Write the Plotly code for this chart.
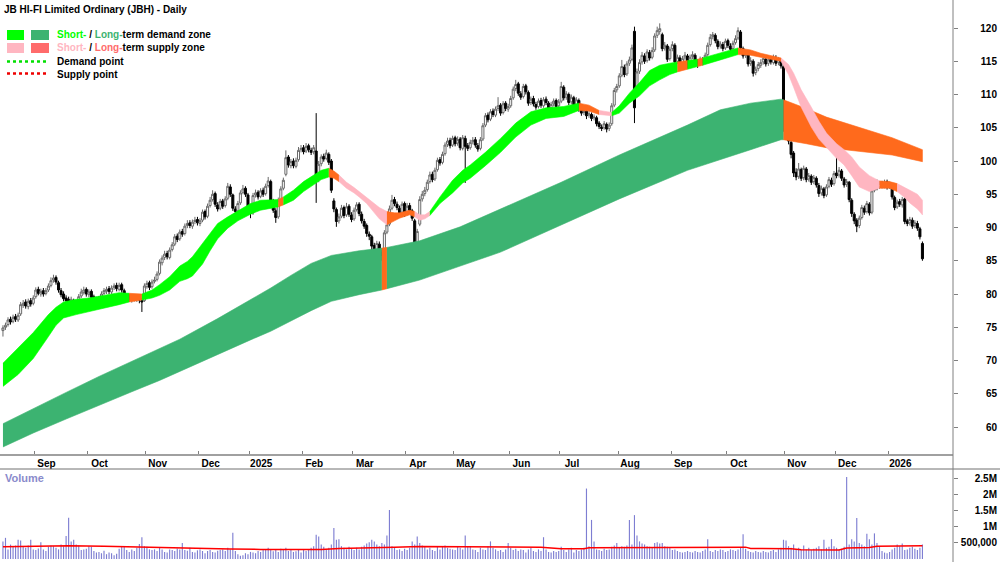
import pandas as pd
import plotly.graph_objects as go

# ---------------- data ----------------
start_date = "2024-08-14"
asx_holidays = ["2024-12-25", "2024-12-26", "2025-01-01", "2025-01-27", "2025-04-18",
                "2025-04-21", "2025-04-25", "2025-06-09", "2025-12-25", "2025-12-26", "2026-01-01"]

opens = [
 74.5,75.0,75.4,76.2,75.9,76.6,76.1,77.0,78.3,78.8, 78.1,79.0,78.6,79.6,80.7,80.0,80.5,80.1,80.6,81.3,
 82.1,82.5,81.7,80.5,80.0,79.4,79.2,78.5,79.0,77.9, 78.6,79.7,80.2,80.7,79.9,80.4,79.6,78.9,79.3,79.0,
 80.1,80.4,80.8,80.3,81.0,81.3,80.7,81.4,80.5,79.3, 79.7,79.1,79.6,79.2,79.7,79.0,79.0,81.1,81.7,81.1,
 81.9,82.2,83.1,84.7,85.5,86.1,85.5,86.7,87.5,88.7, 88.3,89.4,89.1,90.3,90.7,90.2,90.9,91.2,90.6,91.1,
 92.4,91.7,93.3,94.2,95.1,93.4,92.9,94.0,93.3,94.4, 96.1,94.9,92.8,92.5,93.7,95.3,95.9,94.9,93.1,92.2,
 94.9,95.3,94.7,95.6,95.1,96.3,96.9,94.0,92.5,91.6, 94.2,95.9,98.0,100.6,99.3,100.0,99.2,100.2,101.7,102.0,
 101.5,102.3,101.6,101.4,101.5,97.2,99.6,100.7,100.4,101.0, 100.0,94.0,92.7,91.0,91.7,93.0,91.9,93.2,91.9,91.3,
 92.7,93.5,92.0,90.9,90.3,89.0,88.6,87.3,86.1,87.5, 86.3,85.9,89.3,90.5,92.9,94.2,93.5,92.9,92.3,93.6,
 92.1,93.3,92.5,91.0,86.0,90.5,94.3,95.1,95.7,96.9, 98.0,97.3,98.7,100.2,99.8,101.1,102.5,103.1,102.4,103.5,
 102.7,103.3,101.9,103.4,102.3,102.0,102.9,103.2,102.3,101.9, 103.3,105.4,106.9,106.3,107.5,106.9,107.9,108.4,107.3,108.7,
 107.8,108.3,109.5,110.9,111.6,110.1,109.7,111.3,110.3,108.8, 109.4,108.5,108.2,109.1,108.3,109.3,108.7,108.0,108.6,109.1,
 108.3,109.0,111.1,109.6,110.0,108.9,109.5,108.2,109.1,107.9, 107.3,107.5,106.9,107.0,106.5,106.5,105.7,105.1,105.0,105.5,
 104.9,105.6,108.4,110.7,111.3,112.9,114.1,113.1,114.7,115.3, 119.5,110.0,113.5,114.9,115.8,115.1,116.3,115.6,116.7,118.9,
 119.5,119.0,117.0,117.3,115.4,116.9,117.4,115.0,115.5,114.7, 115.5,115.8,114.5,115.7,115.9,114.9,114.7,115.2,114.9,116.0,
 117.5,118.7,118.9,118.0,117.3,117.5,117.0,118.1,117.3,116.9, 117.8,118.5,119.4,116.9,115.9,116.1,114.7,115.0,113.3,113.9,
 114.4,114.9,115.3,114.7,115.3,114.8,115.5,114.8,115.1,114.2, 105.5,106.5,102.8,101.2,98.3,97.7,98.7,97.5,98.8,97.3,
 97.7,96.9,97.4,96.3,95.2,95.8,94.9,96.2,97.1,96.6, 98.2,97.9,98.5,97.3,96.5,96.8,94.1,92.0,91.1,90.3,
 91.5,92.9,92.4,93.5,92.3,95.6,96.9,96.1,96.7,96.2, 96.9,96.2,96.4,94.5,93.1,93.9,93.4,94.3,91.0,90.7,
 91.1,90.3,90.6,89.8,87.6]

highs = [
 75.3,75.7,76.5,76.6,76.9,77.0,77.2,78.8,79.1,79.2, 79.3,79.4,79.8,81.0,81.1,80.8,80.9,80.9,81.6,82.5,
 82.9,82.8,82.0,80.9,80.4,79.8,79.6,79.6,79.3,78.9, 80.0,80.8,81.1,81.0,80.7,80.7,79.9,79.6,79.7,80.4,
 80.9,81.1,81.2,81.3,81.6,81.7,81.7,81.7,80.8,80.0, 80.0,79.9,80.0,80.0,80.0,79.4,81.6,82.0,82.0,82.2,
 82.6,83.4,85.2,85.8,86.5,86.5,87.0,87.8,89.0,89.1, 89.7,89.8,90.6,91.1,91.1,91.2,91.6,91.6,91.4,92.7,
 92.7,93.6,94.6,95.6,95.4,93.8,94.3,94.3,94.7,96.7, 96.5,95.1,93.2,94.0,95.6,96.4,96.2,95.2,93.4,95.2,
 95.7,95.6,95.9,96.0,96.6,97.6,97.2,94.3,92.9,94.5, 96.2,97.5,101.6,100.9,100.3,100.4,100.5,102.1,102.4,102.4,
 102.7,102.6,102.0,102.4,107.2,100.0,101.0,101.1,101.7,101.3, 100.3,94.4,93.0,92.1,93.4,93.3,93.7,93.5,92.3,93.0,
 93.8,93.8,92.4,91.3,90.6,89.4,88.9,87.7,88.0,87.9, 86.7,89.6,90.9,93.3,94.9,94.6,93.9,93.3,93.9,93.9,
 93.7,93.7,92.8,91.3,89.8,94.7,95.5,96.1,97.2,98.4, 98.4,99.0,100.5,100.6,101.4,102.8,103.5,103.5,103.8,103.8,
 103.7,103.6,103.9,103.8,102.7,103.2,103.6,103.6,102.7,103.6, 105.7,107.2,107.3,107.8,107.9,108.2,109.6,108.7,109.0,109.0,
 108.6,109.8,111.2,112.2,111.9,110.5,111.6,111.6,110.6,109.7, 109.8,108.9,109.4,109.5,109.6,109.7,109.0,108.9,109.4,109.4,
 109.3,111.9,111.4,110.5,110.3,110.0,109.8,109.6,109.4,108.2, 108.0,107.9,107.5,107.3,107.0,106.8,106.0,105.5,106.0,105.8,
 105.8,108.7,111.0,111.6,113.2,115.2,114.5,115.0,115.7,117.5, 120.2,113.9,115.3,116.4,116.2,116.8,116.7,117.1,119.2,120.2,
 120.7,119.3,117.9,117.6,117.2,118.0,117.7,116.0,115.9,115.8, 116.4,116.1,116.0,116.5,116.2,115.3,115.7,115.6,116.3,117.8,
 119.1,119.4,119.2,118.3,118.0,117.9,118.4,118.4,117.7,118.1, 118.9,120.1,119.7,117.2,116.7,116.4,115.6,115.3,114.2,114.9,
 115.3,115.8,115.7,115.6,115.7,116.0,115.9,115.6,115.4,114.4, 108.0,106.9,103.2,101.5,98.9,99.7,99.0,99.3,99.1,98.2,
 98.0,97.9,97.7,96.7,96.3,96.1,96.5,97.6,97.5,98.5, 100.9,99.1,98.8,97.6,97.3,97.0,94.4,92.3,91.4,91.8,
 93.4,93.3,94.0,93.8,95.9,97.2,97.2,97.0,97.0,97.2, 97.2,96.9,96.7,94.8,94.2,94.3,94.6,94.5,91.3,91.6,
 91.5,91.1,91.0,90.1,87.9]

lows = [
 73.6,74.6,75.1,75.4,75.6,75.8,75.8,76.7,77.9,77.8, 77.7,78.1,78.3,79.3,79.8,79.6,79.6,79.8,80.3,81.0,
 81.7,81.4,80.2,79.5,78.9,78.5,78.0,78.1,77.3,77.5, 78.3,79.4,79.9,79.6,79.5,79.1,78.6,78.5,78.7,78.7,
 79.8,80.0,80.0,80.0,80.6,80.4,80.4,80.2,79.0,78.9, 78.8,78.7,78.9,78.8,78.6,77.3,78.8,80.8,80.6,80.8,
 81.6,81.9,82.8,84.3,85.1,85.2,85.2,86.4,87.2,87.8, 88.0,88.6,88.8,89.9,89.9,89.8,90.5,90.3,90.2,90.8,
 91.2,91.4,93.0,93.9,93.1,92.4,92.6,92.8,93.0,94.1, 94.6,92.5,91.4,92.2,93.4,95.0,94.6,92.8,91.4,91.9,
 94.5,94.2,94.4,94.6,94.8,96.0,93.7,92.2,90.7,91.3, 93.9,95.6,97.7,99.0,98.9,98.9,98.9,99.9,101.3,101.0,
 101.2,101.3,100.9,101.0,93.7,96.8,99.2,99.9,100.1,99.4, 95.2,92.3,90.1,90.6,91.4,91.4,91.6,91.6,90.8,91.0,
 92.4,91.7,90.6,89.8,88.6,88.1,86.6,85.5,85.7,85.4, 85.0,85.5,89.0,90.2,92.6,93.2,92.6,91.8,92.0,91.6,
 91.8,92.2,91.0,83.0,85.5,90.2,93.9,94.7,95.4,96.6, 96.8,97.0,98.4,99.3,99.5,100.8,102.1,101.9,102.1,102.2,
 102.3,101.6,101.6,96.7,101.5,101.7,102.5,102.0,101.4,101.6, 103.0,105.1,105.8,106.0,106.6,106.6,107.5,106.8,107.0,107.5,
 107.4,108.0,109.2,110.5,109.8,109.2,109.4,110.0,108.3,108.4, 108.2,107.7,107.9,108.0,108.0,108.4,107.5,107.7,108.2,107.8,
 108.0,108.7,109.1,109.2,108.4,108.5,107.7,107.9,107.4,106.8, 106.9,106.3,106.5,106.0,106.1,105.2,104.8,104.5,104.7,104.3,
 104.5,105.3,108.1,110.3,111.0,112.6,112.6,112.8,114.3,115.0, 105.7,109.6,113.1,114.5,114.6,114.8,115.1,115.3,116.4,118.5,
 119.0,116.5,116.6,114.9,115.1,116.5,114.4,114.6,114.0,114.3, 115.1,113.9,114.2,115.3,114.6,114.0,114.3,114.4,114.6,115.7,
 117.2,118.3,117.7,116.8,116.9,116.5,116.7,117.0,116.4,116.6, 117.5,118.2,116.6,115.4,115.5,114.2,114.3,112.7,112.9,113.5,
 114.0,114.5,114.2,114.3,114.5,114.5,114.3,114.4,113.9,104.4, 104.8,102.5,100.4,97.6,97.1,97.3,97.0,97.1,96.8,96.9,
 96.4,96.5,96.0,94.6,94.8,94.4,94.6,95.9,96.1,96.3, 97.4,97.5,97.0,96.0,96.1,93.8,91.6,90.5,89.3,89.9,
 91.2,91.9,92.1,91.8,92.0,95.3,95.6,95.8,95.9,95.9, 95.7,95.8,94.2,92.6,92.8,93.1,93.0,90.5,90.2,90.3,
 89.8,89.9,89.5,88.2,85.0]

closes = [
 74.9,75.3,76.1,75.8,76.5,76.2,76.8,78.4,78.6,78.2, 78.9,78.5,79.4,80.6,80.1,80.4,80.0,80.5,81.2,82.0,
 82.4,81.8,80.6,79.9,79.3,79.0,78.6,79.2,77.8,78.5, 79.6,80.3,80.6,80.0,80.3,79.5,79.0,79.2,79.1,80.0,
 80.5,80.7,80.4,80.9,81.2,80.8,81.3,80.6,79.4,79.6, 79.2,79.5,79.3,79.6,79.1,78.8,81.2,81.6,81.0,81.8,
 82.1,83.0,84.8,85.4,86.0,85.6,86.6,87.4,88.6,88.2, 89.3,89.0,90.2,90.6,90.3,90.8,91.1,90.7,91.0,92.3,
 91.6,93.2,94.1,95.0,93.5,92.8,93.9,93.2,94.3,96.2, 95.0,92.9,92.4,93.6,95.2,95.8,95.0,93.2,92.1,94.8,
 95.2,94.6,95.5,95.0,96.2,97.0,94.1,92.6,91.5,94.1, 95.8,97.1,100.5,99.4,99.9,99.3,100.1,101.6,101.9,101.4,
 102.2,101.7,101.3,102.0,97.0,99.5,100.6,100.3,101.2,99.8, 95.6,92.8,90.9,91.6,92.9,91.8,93.1,92.0,91.2,92.6,
 93.4,92.1,91.0,90.2,89.1,88.7,87.2,86.0,87.6,86.2, 85.8,89.2,90.4,92.8,94.1,93.6,93.0,92.2,93.5,92.0,
 93.2,92.6,91.4,86.0,89.4,94.2,95.0,95.6,96.8,97.9, 97.2,98.6,100.1,99.7,101.0,102.4,103.0,102.3,103.4,102.6,
 103.2,102.0,103.5,102.2,101.9,102.8,103.1,102.4,101.8,103.2, 105.3,106.8,106.2,107.4,107.0,107.8,108.3,107.2,108.6,107.9,
 108.2,109.4,110.8,111.5,110.2,109.6,111.2,110.4,108.7,109.3, 108.6,108.1,109.0,108.4,109.2,108.8,107.9,108.5,109.0,108.2,
 108.9,111.2,109.5,110.1,108.8,109.6,108.1,109.2,107.8,107.2, 107.6,106.8,107.1,106.4,106.6,105.6,105.2,104.9,105.6,104.8,
 105.4,108.3,110.6,111.2,112.8,114.2,113.0,114.6,115.2,117.0, 108.0,113.4,114.8,115.9,115.0,116.4,115.5,116.6,118.8,119.6,
 119.9,116.9,117.4,115.3,116.8,117.5,114.9,115.6,114.6,115.4, 115.9,114.4,115.6,116.0,115.0,114.6,115.3,114.8,115.9,117.4,
 118.6,119.0,118.1,117.2,117.6,116.9,118.0,117.4,116.8,117.7, 118.4,119.6,117.0,115.8,116.2,114.6,115.1,113.2,113.8,114.5,
 114.8,115.4,114.6,115.2,114.9,115.6,114.7,115.2,114.3,105.0, 106.8,103.0,101.0,98.2,97.6,98.8,97.4,98.9,97.2,97.8,
 96.8,97.5,96.4,95.1,95.9,94.8,96.1,97.2,96.5,98.1, 97.8,98.6,97.4,96.4,96.9,94.2,92.1,91.0,90.2,91.4,
 93.0,92.3,93.6,92.2,95.5,96.8,96.0,96.6,96.3,96.8, 96.1,96.5,94.6,93.0,93.8,93.5,94.2,90.9,90.6,91.2,
 90.2,90.7,89.9,88.6,85.3]

volume_m = [
 0.55,0.66,0.30,0.45,0.38,0.42,0.60,0.58,0.40,0.35, 0.42,0.60,0.30,0.28,0.33,0.52,0.30,0.25,0.38,0.42,
 0.40,0.35,0.30,0.45,0.40,0.72,1.29,0.55,0.60,0.45, 0.42,0.28,0.30,0.32,0.40,0.38,0.25,0.20,0.22,0.18,
 0.26,0.15,0.20,0.18,0.12,0.16,0.32,0.38,0.40,0.28, 0.22,0.30,0.25,0.35,0.47,0.68,0.40,0.38,0.30,0.28,
 0.30,0.25,0.35,0.30,0.22,0.20,0.30,0.28,0.25,0.33, 0.30,0.50,0.28,0.26,0.35,0.22,0.20,0.27,0.30,0.25,
 0.18,0.25,0.28,0.22,0.20,0.26,0.28,0.30,0.25,0.35, 0.30,0.82,0.25,0.15,0.10,0.12,0.18,0.15,0.22,0.20,
 0.18,0.25,0.22,0.30,0.28,0.35,0.30,0.24,0.28,0.22, 0.32,0.30,0.35,0.25,0.28,0.22,0.24,0.30,0.20,0.30,
 0.25,0.28,0.35,0.40,0.76,0.70,0.45,0.38,0.30,0.35, 0.45,0.97,0.60,0.62,0.40,0.35,0.30,0.38,0.32,0.28,
 0.35,0.30,0.38,0.42,0.48,0.52,0.60,0.55,0.45,0.40, 0.50,0.45,0.73,1.53,0.40,0.35,0.28,0.30,0.25,0.32,
 0.28,0.35,0.55,0.45,0.70,0.50,0.42,0.38,0.30,0.35, 0.28,0.25,0.38,0.30,0.40,0.42,0.35,0.32,0.30,0.28,
 0.38,0.35,0.30,0.73,0.40,0.38,0.30,0.28,0.22,0.35, 0.30,0.28,0.40,0.55,0.35,0.30,0.25,0.28,0.22,0.30,
 0.50,0.35,0.28,0.32,0.25,0.30,0.28,0.20,0.30,0.35, 0.25,0.22,0.30,0.25,0.68,0.30,0.22,0.20,0.25,0.22,
 0.25,0.38,0.28,0.22,0.30,0.35,0.20,0.28,0.25,0.30, 0.35,2.20,0.40,1.22,0.55,0.30,0.28,0.25,0.32,0.28,
 0.30,0.38,0.42,0.50,0.35,0.40,0.38,0.42,1.22,0.45, 1.37,0.73,0.55,0.48,0.45,0.40,0.38,0.35,0.50,0.52,
 0.48,0.50,0.40,0.38,0.35,0.28,0.30,0.25,0.22,0.20, 0.22,0.25,0.22,0.20,0.25,0.22,0.20,0.25,0.30,0.62,
 0.25,0.22,0.28,0.25,0.30,0.28,0.22,0.25,0.30,0.28, 0.25,0.30,0.35,0.77,0.32,0.25,0.22,0.20,0.25,0.22,
 0.20,0.25,0.22,0.20,0.25,0.28,0.22,0.30,0.35,0.60, 0.58,0.40,0.35,0.45,0.30,0.35,0.28,0.42,0.30,0.35,
 0.28,0.32,0.35,0.40,0.30,0.60,0.35,0.38,0.62,0.40, 0.35,0.30,0.32,0.38,2.56,0.45,0.62,0.55,1.28,0.50,
 0.45,0.40,0.79,0.62,0.45,0.80,0.50,0.40,0.25,0.20, 0.18,0.22,0.30,0.35,0.45,0.40,0.48,0.28,0.30,0.35,
 0.38,0.32,0.28,0.35,0.45]

# volume moving average (read at sample bars), millions
vol_ma_idx = [0, 11, 26, 40, 54, 62, 78, 90, 102, 118, 126, 133, 145, 155, 165, 185, 197, 213,
              221, 230, 232, 252, 276, 294, 296, 312, 316, 331, 334, 343, 346, 364]
vol_ma_m = [0.38, 0.40, 0.41, 0.40, 0.37, 0.36, 0.33, 0.31, 0.30, 0.29, 0.30, 0.33, 0.34, 0.37, 0.39, 0.39,
            0.39, 0.37, 0.32, 0.32, 0.35, 0.36, 0.37, 0.37, 0.33, 0.32, 0.29, 0.28, 0.34, 0.36, 0.40, 0.41]

# long-term zone edges (sample bar, top, bottom, zone of the stretch that starts there)
lt_idx = [0, 12, 25, 38, 51, 62, 70, 85, 98, 106, 114, 122, 130, 141, 150, 152, 165, 181, 197, 221, 244,
          271, 284, 296, 308, 309, 318, 326, 339, 352, 364]
lt_top = [60.5, 62.8, 65.2, 67.6, 69.9, 71.8, 73.2, 76.3, 79.1, 80.9, 82.8, 84.6, 85.8, 86.5, 86.9, 87.0,
          88.0, 90.1, 92.8, 96.8, 100.9, 105.4, 107.7, 108.7, 109.3, 109.2, 107.9, 106.6, 105.0, 103.5, 101.7]
lt_bot = [57.0, 59.1, 61.2, 63.3, 65.3, 67.0, 68.3, 70.9, 73.1, 74.4, 75.9, 77.5, 78.9, 79.9, 80.6, 80.8,
          82.1, 84.2, 86.3, 90.4, 94.3, 98.6, 100.2, 101.7, 103.2, 103.2, 102.6, 102.0, 101.4, 100.9, 99.9]
lt_zone = ["d", "d", "d", "d", "d", "d", "d", "d", "d", "d", "d", "d", "d", "d", "o", "d", "d", "d",
           "d", "d", "d", "d", "d", "d", "d", "o", "o", "o", "o", "o", "o"]

# short-term zone edges
st_idx = [0, 6, 12, 18, 21, 24, 29, 34, 40, 46, 50, 55, 59, 62, 66, 70, 73, 75, 79, 82, 85, 89, 93, 98,
          102, 106, 109, 111, 115, 119, 122, 126, 129, 131, 133, 136, 139, 141, 144, 146, 149, 152, 155,
          157, 161, 163, 165, 167, 169, 173, 178, 182, 185, 191, 197, 203, 209, 215, 222, 228, 232, 236,
          241, 244, 248, 252, 256, 260, 264, 267, 271, 275, 277, 284, 288, 291, 296, 300, 304, 308, 311,
          313, 316, 320, 323, 326, 330, 333, 336, 339, 343, 347, 351, 354, 357, 359, 362, 364]
st_top = [69.6, 71.9, 74.2, 76.9, 78.0, 78.8, 79.2, 79.4, 79.8, 80.2, 80.1, 80.0, 80.6, 81.4, 82.6, 84.2,
          84.9, 85.6, 87.6, 89.2, 90.6, 91.6, 92.5, 93.6, 94.1, 94.1, 94.2, 94.6, 95.6, 96.9, 97.6, 98.6,
          98.9, 98.5, 97.9, 96.8, 96.0, 95.4, 94.6, 93.9, 93.0, 92.4, 92.2, 92.2, 92.6, 92.4, 91.9, 91.9,
          92.4, 94.6, 97.1, 98.6, 99.4, 101.3, 103.4, 105.7, 107.4, 108.0, 108.2, 108.7, 108.4, 107.6,
          107.3, 108.3, 110.2, 111.8, 113.6, 114.4, 114.7, 114.9, 115.1, 115.3, 115.5, 116.2, 116.7, 117.0,
          116.7, 116.2, 115.8, 115.5, 114.5, 113.2, 110.7, 108.1, 106.0, 104.2, 102.6, 101.7, 100.6, 99.1,
          97.8, 97.0, 96.9, 96.6, 96.0, 95.6, 95.0, 94.1]
st_bot = [66.1, 67.9, 70.3, 73.6, 75.3, 76.4, 76.9, 77.3, 77.9, 78.4, 78.8, 79.1, 79.4, 79.8, 80.6, 81.9,
          82.3, 82.7, 84.5, 86.5, 88.3, 89.9, 91.0, 92.0, 92.6, 92.9, 93.1, 93.4, 94.1, 95.4, 96.1, 97.2,
          97.6, 97.4, 96.9, 95.9, 95.2, 94.6, 93.6, 92.6, 91.3, 90.4, 91.0, 91.4, 91.9, 91.6, 91.1, 91.3,
          91.8, 93.6, 95.2, 96.7, 97.4, 99.3, 101.3, 103.6, 105.4, 106.4, 106.7, 107.6, 107.5, 107.0,
          106.8, 107.2, 108.7, 109.8, 111.3, 112.2, 113.0, 113.4, 113.8, 114.2, 114.4, 115.2, 115.7, 116.0,
          115.9, 115.6, 115.3, 115.0, 113.0, 111.1, 108.1, 105.1, 103.3, 102.1, 100.4, 99.4, 97.8, 96.1,
          95.4, 95.9, 95.9, 95.4, 94.5, 93.7, 92.8, 91.9]
st_zone = ["d", "d", "d", "d", "d", "d", "d", "d", "d", "d", "o", "d", "d", "d", "d", "d", "d", "d",
           "d", "d", "d", "d", "d", "d", "d", "d", "o", "d", "d", "d", "d", "d", "o", "o", "s", "s",
           "s", "s", "s", "s", "s", "o", "o", "o", "o", "s", "s", "s", "d", "d", "d", "d", "d", "d",
           "d", "d", "d", "d", "d", "o", "o", "s", "d", "d", "d", "d", "d", "d", "d", "o", "d", "o",
           "d", "d", "d", "o", "o", "o", "o", "s", "s", "s", "s", "s", "s", "s", "s", "s", "s", "s",
           "s", "o", "o", "s", "s", "s", "s", "s"]

price_ticks = [60, 65, 70, 75, 80, 85, 90, 95, 100, 105, 110, 115, 120]
vol_ticks = [500000, 1000000, 1500000, 2000000, 2500000]
vol_tick_text = ["500,000", "1M", "1.5M", "2M", "2.5M"]

# ---------------- styling ----------------
FONT = "Liberation Sans, Arial, sans-serif"
C_ST_D, C_LT_D, C_ST_S, C_OR = "#00ff00", "#3cb371", "#ffb6c1", "#ff6a1c"
W, H = 1000, 562
PLOT_R = 953 / W
Y_PRICE0 = (H - 455) / H
Y_VOL1 = (H - 469) / H

n = len(closes)
dates = pd.bdate_range(start_date, periods=n + 40, freq="C", holidays=asx_holidays)[:n]
xs = list(range(n))

tick_vals, tick_text = [], []
for i in range(1, n):
    if dates[i].month != dates[i - 1].month:
        tick_vals.append(i - 0.5)
        tick_text.append(str(dates[i].year) if dates[i].month == 1 else dates[i].strftime("%b"))

fig = go.Figure()


def add_zone(idx, top, bot, zone, colors):
    k = 0
    m = len(idx)
    while k < m - 1:
        z = zone[k]
        e = k
        while e + 1 < m - 1 and zone[e + 1] == z:
            e += 1
        a, b = k, e + 1
        px = idx[a:b + 1] + idx[a:b + 1][::-1]
        py = top[a:b + 1] + bot[a:b + 1][::-1]
        fig.add_trace(go.Scatter(x=px, y=py, fill="toself", fillcolor=colors[z], mode="lines",
                                 line=dict(width=0.6, color=colors[z]), hoverinfo="skip",
                                 showlegend=False, xaxis="x", yaxis="y"))
        k = e + 1


add_zone(lt_idx, lt_top, lt_bot, lt_zone, {"d": C_LT_D, "o": C_OR, "s": C_OR})
add_zone(st_idx, st_top, st_bot, st_zone, {"d": C_ST_D, "o": C_OR, "s": C_ST_S})

fig.add_trace(go.Candlestick(
    x=xs, open=opens, high=highs, low=lows, close=closes,
    increasing=dict(line=dict(color="#6a6a6a", width=1), fillcolor="#ffffff"),
    decreasing=dict(line=dict(color="#000000", width=1), fillcolor="#000000"),
    whiskerwidth=0, hoverinfo="skip", showlegend=False, xaxis="x", yaxis="y"))

fig.add_trace(go.Bar(x=xs, y=[v * 1e6 for v in volume_m], width=0.45,
                     marker=dict(color="#7e7ed2", line=dict(width=0)),
                     hoverinfo="skip", showlegend=False, xaxis="x2", yaxis="y2"))
fig.add_trace(go.Scatter(x=vol_ma_idx, y=[v * 1e6 for v in vol_ma_m], mode="lines",
                         line=dict(color="#ff0000", width=1.5), hoverinfo="skip",
                         showlegend=False, xaxis="x2", yaxis="y2"))
# carriers for the right-aligned label axes
fig.add_trace(go.Scatter(x=[None], y=[None], xaxis="x", yaxis="y3", showlegend=False))
fig.add_trace(go.Scatter(x=[None], y=[None], xaxis="x2", yaxis="y4", showlegend=False))

xr = [-1.17, 376.1]
pr = [55.79, 124.21]
vr = [-0.094e6, 2.81e6]
lab_font = dict(family=FONT, size=10, color="#000000", weight="bold")

fig.update_layout(
    width=W, height=H, autosize=False, margin=dict(l=0, r=0, t=0, b=0, pad=0),
    paper_bgcolor="#ffffff", plot_bgcolor="#ffffff", font=dict(family=FONT, size=10, color="#000"),
    showlegend=False, hovermode=False, boxgap=0.2, boxgroupgap=0.0,
    xaxis=dict(domain=[0, PLOT_R], range=xr, anchor="y", tickvals=tick_vals, ticktext=tick_text,
               ticks="inside", ticklen=4, tickcolor="#808080", showgrid=False, zeroline=False,
               showline=False, tickfont=lab_font, ticklabelshift=12, ticklabelstandoff=1,
               rangeslider=dict(visible=False), fixedrange=True),
    xaxis2=dict(domain=[0, PLOT_R], range=xr, anchor="y2", showticklabels=False, ticks="",
                showgrid=False, zeroline=False, showline=False, fixedrange=True),
    yaxis=dict(domain=[Y_PRICE0, 1], range=pr, anchor="x", side="right", tickvals=price_ticks,
               ticks="outside", ticklen=4, tickcolor="#808080", showticklabels=False,
               showgrid=False, zeroline=False, showline=False, fixedrange=True),
    yaxis3=dict(overlaying="y", anchor="free", position=0.997, side="left", range=pr,
                tickvals=price_ticks, ticktext=[str(v) for v in price_ticks], ticks="",
                showgrid=False, zeroline=False, showline=False, tickfont=lab_font, fixedrange=True),
    yaxis2=dict(domain=[0, Y_VOL1], range=vr, anchor="x2", side="right", tickvals=vol_ticks,
                ticks="outside", ticklen=4, tickcolor="#808080", showticklabels=False,
                showgrid=False, zeroline=False, showline=False, fixedrange=True),
    yaxis4=dict(overlaying="y2", anchor="free", position=0.997, side="left", range=vr,
                tickvals=vol_ticks, ticktext=vol_tick_text, ticks="", showgrid=False,
                zeroline=False, showline=False, tickfont=lab_font, fixedrange=True),
)


def py(p):
    return 1 - p / H


shapes = [
    dict(type="line", xref="paper", yref="paper", x0=0, x1=PLOT_R, y0=py(455), y1=py(455),
         line=dict(color="#a0a0a0", width=2)),
    dict(type="line", xref="paper", yref="paper", x0=0, x1=1, y0=py(469), y1=py(469),
         line=dict(color="#707070", width=1)),
    dict(type="line", xref="paper", yref="paper", x0=PLOT_R, x1=PLOT_R, y0=0, y1=1,
         line=dict(color="#808080", width=1)),
    dict(type="rect", xref="paper", yref="paper", x0=7 / W, x1=24 / W, y0=py(40), y1=py(30),
         fillcolor=C_ST_D, line=dict(width=0)),
    dict(type="rect", xref="paper", yref="paper", x0=31 / W, x1=49 / W, y0=py(40), y1=py(30),
         fillcolor=C_LT_D, line=dict(width=0)),
    dict(type="rect", xref="paper", yref="paper", x0=7 / W, x1=24 / W, y0=py(53), y1=py(43),
         fillcolor=C_ST_S, line=dict(width=0)),
    dict(type="rect", xref="paper", yref="paper", x0=31 / W, x1=49 / W, y0=py(53), y1=py(43),
         fillcolor="#ff6b6b", line=dict(width=0)),
    dict(type="line", xref="paper", yref="paper", x0=7 / W, x1=49 / W, y0=py(61.5), y1=py(61.5),
         line=dict(color="#00e000", width=2.5, dash="dot")),
    dict(type="line", xref="paper", yref="paper", x0=7 / W, x1=49 / W, y0=py(73.5), y1=py(73.5),
         line=dict(color="#ee0000", width=2.5, dash="dot")),
]
fig.update_layout(shapes=shapes)

txt_font = dict(family=FONT, size=10, color="#000000", weight="bold")
ann = [
    dict(text="JB HI-FI Limited Ordinary (JBH) - Daily", x=2 / W, y=py(9)),
    dict(text=f"<span style='color:{C_ST_D}'>Short-</span> / <span style='color:{C_LT_D}'>Long-</span>term demand zone",
         x=55 / W, y=py(35)),
    dict(text=f"<span style='color:{C_ST_S}'>Short-</span> / <span style='color:#ff6b6b'>Long-</span>term supply zone",
         x=55 / W, y=py(48)),
    dict(text="Demand point", x=55 / W, y=py(61.5)),
    dict(text="Supply point", x=55 / W, y=py(74)),
]
annotations = []
for a in ann:
    annotations.append(dict(text=a["text"], x=a["x"], y=a["y"], xref="paper", yref="paper",
                            xanchor="left", yanchor="middle", showarrow=False, font=txt_font))
annotations.append(dict(text="Volume", x=3 / W, y=py(478), xref="paper", yref="paper",
                        xanchor="left", yanchor="middle", showarrow=False,
                        font=dict(family=FONT, size=11, color="#8a8acb", weight="bold")))
fig.update_layout(annotations=annotations)

fig.write_html("out.html", include_plotlyjs=True, config={"displayModeBar": False, "staticPlot": True})
